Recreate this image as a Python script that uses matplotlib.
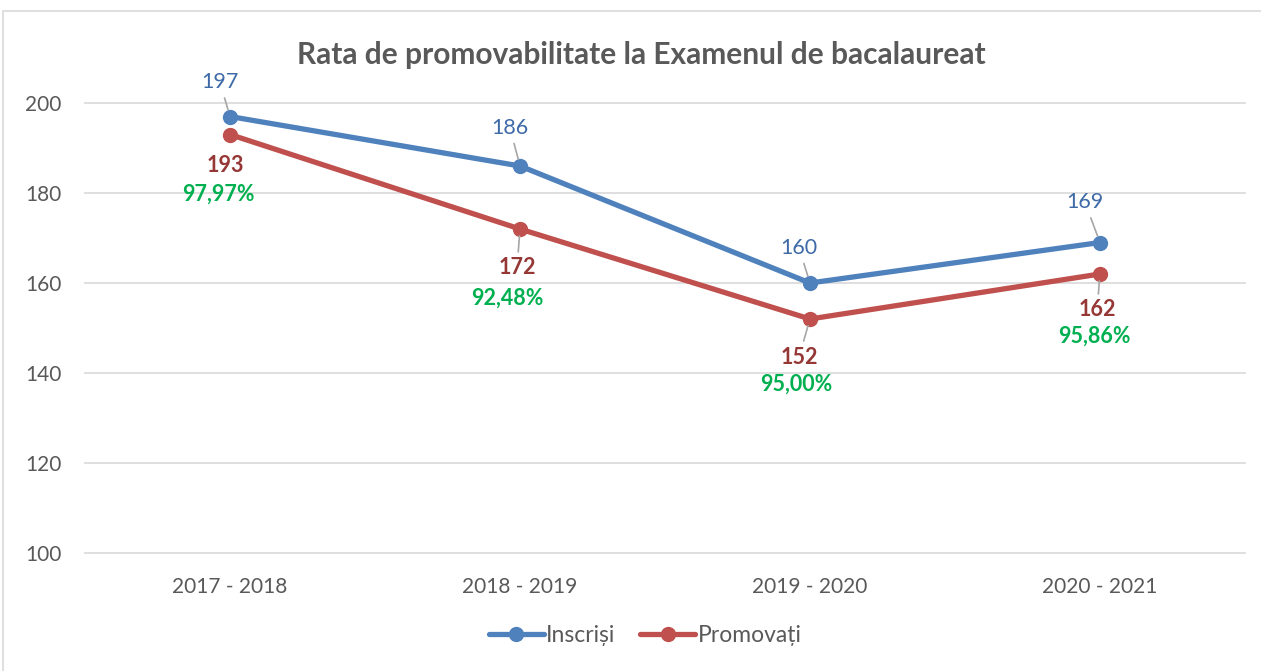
import matplotlib.pyplot as plt
from matplotlib.patches import Rectangle

# data
years = ["2017 - 2018", "2018 - 2019", "2019 - 2020", "2020 - 2021"]
inscrisi = [197, 186, 160, 169]
promovati = [193, 172, 152, 162]
procente = ["97,97%", "92,48%", "95,00%", "95,86%"]

FONT = "Lato"
GRAY = "#595959"
BLUE = "#4F81BD"
RED = "#C0504D"

plt.rcParams["font.family"] = [FONT, "DejaVu Sans"]

fig = plt.figure(figsize=(12.61, 6.71), dpi=100)
ax = fig.add_axes([85 / 1261, 1 - 553 / 671, 1160 / 1261, 450 / 671])

x = list(range(len(years)))
ax.plot(x, inscrisi, color=BLUE, lw=3.8, marker="o", ms=10,
        solid_capstyle="round", label="Inscriși", zorder=3)
ax.plot(x, promovati, color=RED, lw=3.8, marker="o", ms=10,
        solid_capstyle="round", label="Promovați", zorder=3)

ax.set_xlim(-0.5, 3.5)
ax.set_ylim(100, 200)
ax.set_yticks(range(100, 201, 20))
ax.set_xticks(x)
ax.set_xticklabels(years)
ax.grid(axis="y", color="#D9D9D9", lw=1.2)
for gl in ax.get_ygridlines():
    gl.set_clip_on(False)
ax.set_axisbelow(True)
for s in ax.spines.values():
    s.set_visible(False)
ax.tick_params(length=0, labelsize=15, labelcolor=GRAY)
ax.tick_params(axis="x", pad=17)
ax.tick_params(axis="y", pad=17)

leader = dict(arrowstyle="-", color="#A6A6A6", lw=1.2, shrinkA=2, shrinkB=5)

# offsets in pixels for the labels (text centre relative to the point)
blue_off = [(-10, 34), (-10, 38), (-11, 35), (-15, 40)]
red_off = [(-5, -31), (-3, -39), (-11, -38), (-3, -36)]
red_leader = [False, True, True, True]
green_off = [(-12, -60), (-13, -69), (-14, -65), (-6, -62)]

for i in x:
    ax.annotate(str(inscrisi[i]), (i, inscrisi[i]), xytext=blue_off[i],
                textcoords="offset pixels", ha="center", va="center",
                fontsize=15.5, color="#3E6AA8", arrowprops=leader, zorder=4)
    ax.annotate(str(promovati[i]), (i, promovati[i]), xytext=red_off[i],
                textcoords="offset pixels", ha="center", va="center",
                fontsize=15.5, color="#953735", fontweight="bold",
                arrowprops=leader if red_leader[i] else None, zorder=4)
    ax.annotate(procente[i], (i, promovati[i]), xytext=green_off[i],
                textcoords="offset pixels", ha="center", va="center",
                fontsize=15.5, color="#00B050", fontweight="bold", zorder=4)

fig.text(641 / 1261, 1 - 55 / 671, "Rata de promovabilitate la Examenul de bacalaureat",
         ha="center", va="center", fontsize=21.5, fontweight="bold", color=GRAY)

fig.legend(loc="center", bbox_to_anchor=(645 / 1261, 1 - 636 / 671), ncol=2,
           frameon=False, fontsize=16.5, labelcolor=GRAY, handlelength=2.4,
           handletextpad=0.1, columnspacing=1.1)

# chart border
fig.patches.append(Rectangle((3 / 1261, -0.01), 1.0, 1 - 11 / 671 + 0.01,
                             transform=fig.transFigure, fill=False,
                             edgecolor="#D9D9D9", lw=1.2))

fig.savefig("out.png", dpi=100)
